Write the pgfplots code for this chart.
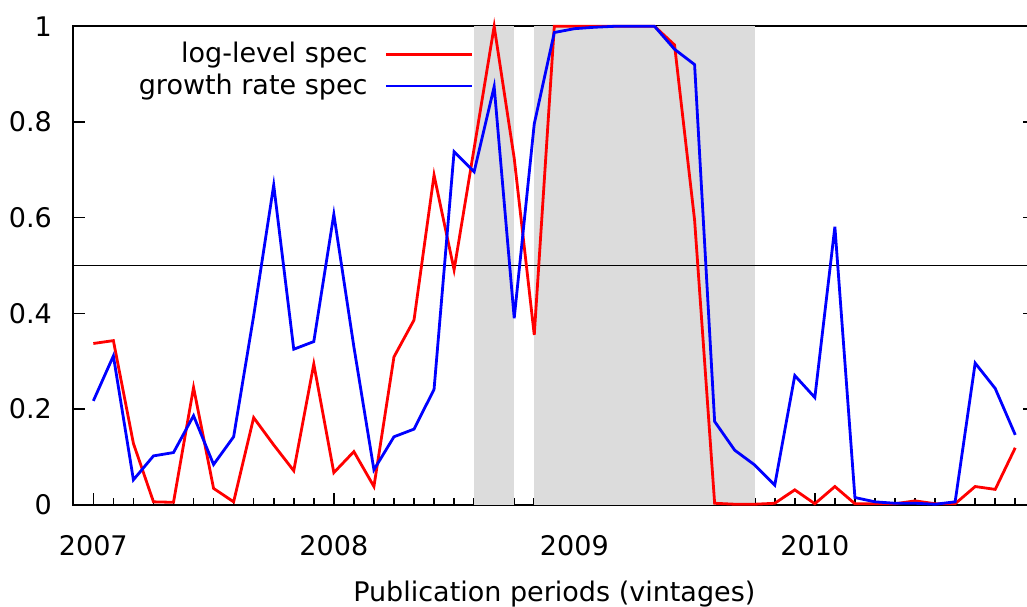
\documentclass[border=0pt]{standalone}
\usepackage{fontspec}
\setmainfont{DejaVu Sans}
\usepackage{pgfplots}
\usepackage{pgfplotstable}
\pgfplotsset{compat=1.18}
\definecolor{shade}{RGB}{220,220,220}

\pgfplotstableread{
m  red    blue
0  0.337  0.217
1  0.343  0.311
2  0.128  0.052
3  0.006  0.102
4  0.005  0.109
5  0.245  0.186
6  0.034  0.084
7  0.006  0.142
8  0.182  0.395
9  0.125  0.668
10 0.071  0.325
11 0.294  0.341
12 0.067  0.607
13 0.111  0.330
14 0.038  0.073
15 0.309  0.142
16 0.386  0.158
17 0.689  0.241
18 0.491  0.738
19 0.745  0.696
20 1.000  0.874
21 0.724  0.390
22 0.355  0.796
23 1.000  0.987
24 1.000  0.995
25 1.000  0.998
26 1.000  1.000
27 1.000  1.000
28 1.000  1.000
29 0.961  0.952
30 0.595  0.920
31 0.003  0.174
32 0.001  0.114
33 0.001  0.083
34 0.003  0.041
35 0.031  0.270
36 0.002  0.224
37 0.038  0.581
38 0.002  0.015
39 0.002  0.006
40 0.002  0.003
41 0.008  0.003
42 0.002  0.001
43 0.002  0.006
44 0.038  0.296
45 0.032  0.243
46 0.119  0.146
}\datatable

\begin{document}
\fontsize{13.5pt}{16pt}\selectfont
\begin{tikzpicture}
\begin{axis}[
  scale only axis,
  width=481pt, height=239.2pt,
  xmin=-1, xmax=47, ymin=0, ymax=1,
  clip=false,
  axis line style={line width=1pt},
  xtick={0,12,24,36},
  xticklabels={2007,2008,2009,2010},
  minor xtick={-1,0,...,47},
  ytick={0,0.2,0.4,0.6,0.8,1},
  yticklabels={0,0.2,0.4,0.6,0.8,1},
  xtick pos=bottom,
  ytick pos=both,
  tick align=inside,
  major tick length=6pt,
  minor tick length=3.3pt,
  every tick/.style={black, line width=0.8pt},
  tick label style={font=\fontsize{13.5pt}{16pt}\selectfont},
  /pgf/number format/assume math mode=true,
  xticklabel style={inner sep=0pt, yshift=-15pt},
  yticklabel style={inner sep=0pt, xshift=-10.5pt},
  xlabel={Publication periods (vintages)},
  xlabel style={at={(axis description cs:0.5,0)}, anchor=north, inner sep=0pt, yshift=-38pt, font=\fontsize{13.5pt}{16pt}\selectfont},
  legend style={at={(rel axis cs:0.4165,0.968)}, anchor=north east, draw=none, fill=none, inner sep=0pt, column sep=0pt, row sep=3.6pt, nodes={inner sep=0pt}, font=\fontsize{13.5pt}{16pt}\selectfont},
  legend cell align=right,
  legend plot pos=right,
  legend image code/.code={\path[draw=none,fill=none] (0pt,0pt) -- (1pt,0pt); \draw[#1] (9.5pt,0pt) -- (52.35pt,0pt);},
]
\addplot[fill=shade, draw=none, forget plot] coordinates {(19,0) (19,1) (21,1) (21,0)} -- cycle;
\addplot[fill=shade, draw=none, forget plot] coordinates {(22,0) (22,1) (33,1) (33,0)} -- cycle;
\addplot[black, line width=0.7pt, forget plot] coordinates {(-1,0.5) (47,0.5)};
\addplot[red, line width=1.4pt] table[x=m, y=red] {\datatable};
\addplot[blue, line width=1.4pt] table[x=m, y=blue] {\datatable};
\legend{log-level spec, growth rate spec}
\end{axis}
\pgfresetboundingbox
\path[use as bounding box] (-36.65pt,-50.65pt) rectangle (476.85pt,252.35pt);
\end{tikzpicture}
\end{document}
